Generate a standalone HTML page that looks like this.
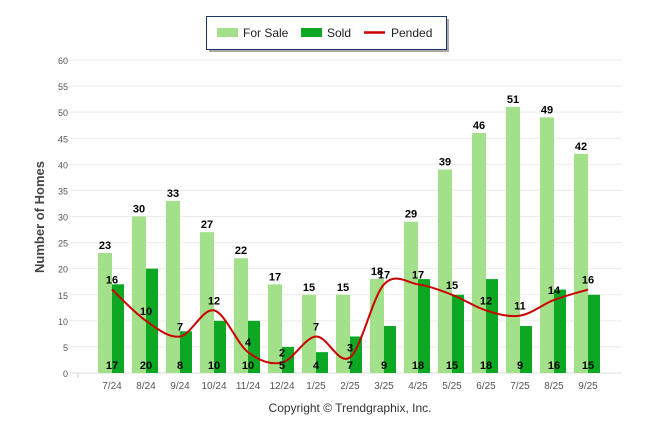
<!DOCTYPE html>
<html><head><meta charset="utf-8"><style>
body{margin:0;background:#fff;font-family:"Liberation Sans",Arial,sans-serif}
svg{display:block}
</style></head><body>
<svg id="c" width="646" height="434">
<g id="grid"></g><g id="bars"></g><g id="line"></g><g id="labels"></g>
<text x="44" y="217" transform="rotate(-90 44 217)" text-anchor="middle" font-size="13" font-weight="bold" fill="#444">Number of Homes</text>
<text x="350" y="412" text-anchor="middle" font-size="12" fill="#333">Copyright © Trendgraphix, Inc.</text>
<g>
<rect x="209" y="19" width="240" height="33" fill="#555" opacity="0.5"/>
<rect x="206.5" y="16.5" width="240" height="33" fill="#fff" stroke="#1f3564" stroke-width="1"/>
<rect x="217" y="28" width="21" height="9" fill="#a2e08a"/>
<text x="243" y="37" font-size="12" fill="#222">For Sale</text>
<rect x="301" y="28" width="21" height="9" fill="#0ca823"/>
<text x="327" y="37" font-size="12" fill="#222">Sold</text>
<line x1="364" y1="32.5" x2="385" y2="32.5" stroke="#c00" stroke-width="2.5"/>
<text x="391" y="37" font-size="12" fill="#222">Pended</text>
</g>
</svg>
<script>
const categories=["7/24","8/24","9/24","10/24","11/24","12/24","1/25","2/25","3/25","4/25","5/25","6/25","7/25","8/25","9/25"];
const forSale=[23,30,33,27,22,17,15,15,18,29,39,46,51,49,42];
const sold=[17,20,8,10,10,5,4,7,9,18,15,18,9,16,15];
const pended=[16,10,7,12,4,2,7,3,17,17,15,12,11,14,16];
const yTicks=[0,5,10,15,20,25,30,35,40,45,50,55,60];
const NS="http://www.w3.org/2000/svg";
const y=v=>373-v*313/60;
const x=i=>112+i*34;
function mk(tag,attrs,parent,txt){const e=document.createElementNS(NS,tag);for(const k in attrs)e.setAttribute(k,attrs[k]);if(txt!=null)e.textContent=txt;document.getElementById(parent).appendChild(e);return e;}
yTicks.forEach(t=>{
 const l=mk("line",{x1:70,x2:622,y1:y(t),y2:y(t),stroke:t===0?"#ddd":"#ebebeb","stroke-width":1},"grid");
 
 
 const tx=mk("text",{x:68,y:y(t)+4,"text-anchor":"end","font-size":9,fill:"#555"},"grid",t);
 
 
});
mk("line",{x1:78,x2:78,y1:373,y2:378,stroke:"#ccc"},"grid");
categories.forEach((c,i)=>{
 const tx=mk("text",{x:x(i),y:389,"text-anchor":"middle","font-size":10,fill:"#555"},"grid",c);
 
 
 const b1=mk("rect",{x:x(i)-14,y:y(forSale[i]),width:14,height:373-y(forSale[i]),fill:"#a2e08a"},"bars");
 
 
 const b2=mk("rect",{x:x(i),y:y(sold[i]),width:12,height:373-y(sold[i]),fill:"#0ca823"},"bars");
 
 
 const l1=mk("text",{x:x(i)-7,y:y(forSale[i])-4,"text-anchor":"middle","font-size":11,"font-weight":"bold",fill:"#000"},"labels",forSale[i]);
 
 
 const l2=mk("text",{x:x(i),y:369,"text-anchor":"middle","font-size":11,"font-weight":"bold",fill:"#000"},"labels",sold[i]);
 
 
 const l3=mk("text",{x:x(i),y:y(pended[i])-6,"text-anchor":"middle","font-size":11,"font-weight":"bold",fill:"#000"},"labels",pended[i]);
 
 
});
const pts=pended.map((v,i)=>[x(i),y(v)]);
let d="M"+pts[0][0]+","+pts[0][1];
for(let i=0;i<pts.length-1;i++){
 const p0=pts[Math.max(0,i-1)],p1=pts[i],p2=pts[i+1],p3=pts[Math.min(pts.length-1,i+2)];
 const c1=[p1[0]+(p2[0]-p0[0])/6,p1[1]+(p2[1]-p0[1])/6];
 const c2=[p2[0]-(p3[0]-p1[0])/6,p2[1]-(p3[1]-p1[1])/6];
 d+=` C${c1[0]},${c1[1]} ${c2[0]},${c2[1]} ${p2[0]},${p2[1]}`;
}
const ln=mk("path",{d:d,fill:"none",stroke:"#c00","stroke-width":2},"line");


</script>
</body></html>
